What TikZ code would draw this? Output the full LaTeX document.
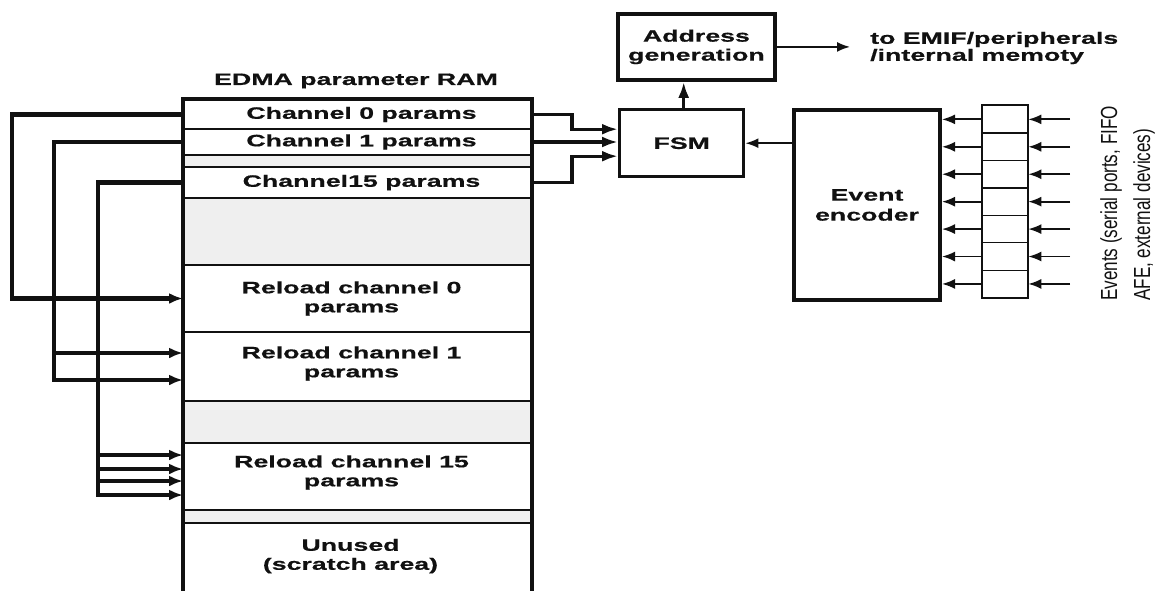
\documentclass[tikz,border=0pt]{standalone}
\usepackage{fontspec}
\usepackage{graphicx}
\setmainfont{Liberation Sans}
\newfontfamily\wfont{Liberation Sans}[FakeStretch=1.62,FakeBold=0.6]
\newfontfamily\nfont{Liberation Sans}
\usetikzlibrary{arrows.meta,calc}
\definecolor{ramgray}{HTML}{EFEFEF}
\definecolor{ink}{HTML}{111111}
\tikzset{
  row/.style={draw=ink, line width=2pt, minimum width=347pt, inner sep=0pt, anchor=north west, fill=white},
  grayrow/.style={row, fill=ramgray},
  lbl/.style={font=\wfont\bfseries\fontsize{16.5}{19}\selectfont, text=ink, align=center, inner sep=0pt},
  blk/.style={draw=ink, line width=3.8pt, inner sep=0pt, anchor=north west, fill=white},
  cell/.style={draw=ink, line width=1.3pt, minimum width=45pt, minimum height=27.43pt, inner sep=0pt, anchor=north west},
  arr/.style={draw=ink, line width=3.4pt, -{Latex[length=16pt,width=11pt]}},
  loopv/.style={draw=ink, line width=4.2pt, -{Latex[length=14pt,width=11pt]}},
  larr/.style={draw=ink, line width=3.2pt, -{Latex[length=14pt,width=11pt]}},
  sarr/.style={draw=ink, line width=1.8pt, -{Latex[length=13pt,width=10pt]}},
}
\begin{document}
\begin{tikzpicture}[x=1pt,y=-1pt]
\useasboundingbox[fill=white] (0,0) rectangle (1161,590);

% ---- EDMA parameter RAM rows
\node[row, minimum height=29pt] (ch0) at (183,99) {};
\node[row, minimum height=26pt] (ch1) at (183,128) {};
\node[grayrow, minimum height=12pt] (g1) at (183,154) {};
\node[row, minimum height=31pt] (ch15) at (183,166) {};
\node[grayrow, minimum height=67pt] (g2) at (183,197) {};
\node[row, minimum height=67pt] (rl0) at (183,264) {};
\node[row, minimum height=69pt] (rl1) at (183,331) {};
\node[grayrow, minimum height=42pt] (g3) at (183,400) {};
\node[row, minimum height=67pt] (rl15) at (183,442) {};
\node[grayrow, minimum height=13pt] (g4) at (183,509) {};
\node[row, minimum height=80pt] (un) at (183,522) {};
\draw[ink, line width=4.6pt] (un.south west) -- (ch0.north west) -- (ch0.north east) -- (un.south east);

\node[lbl] (title) at (356,81) {EDMA parameter RAM};
\node[lbl] (tch0) at ($(ch0.center)+(4,0)$) {Channel 0 params};
\node[lbl] (tch1) at ($(ch1.center)+(4,0)$) {Channel 1 params};
\node[lbl] (tch15) at ($(ch15.center)+(4,0)$) {Channel15 params};
\node[lbl] (trl0) at ($(rl0.center)+(-6,0)$) {Reload channel 0\\params};
\node[lbl] (trl1) at ($(rl1.center)+(-6,-3)$) {Reload channel 1\\params};
\node[lbl] (trl15) at ($(rl15.center)+(-6,-4)$) {Reload channel 15\\params};
\node[lbl] (tun) at ($(un.north)+(-7,34)$) {Unused\\(scratch area)};

% ---- blocks
\node[blk, minimum width=157pt, minimum height=66pt] (addr) at (616,12) {};
\node[lbl] (taddr) at (addr.center) {Address\\generation};
\node[blk, line width=3.4pt, minimum width=124pt, minimum height=67pt] (fsm) at (618,108) {};
\node[lbl] (tfsm) at (fsm.center) {FSM};
\node[blk, line width=4pt, minimum width=146pt, minimum height=190pt] (enc) at (792,108) {};
\node[lbl, font=\wfont\bfseries\fontsize{16.5}{20}\selectfont] (tenc) at (enc.center) {Event\\encoder};
\node[lbl, align=left, anchor=west, font=\wfont\bfseries\fontsize{16.5}{17}\selectfont] (emif) at (870,48) {to EMIF/peripherals\\/internal memoty};

% ---- event register
\foreach \i in {1,...,7} {
  \node[cell] (r\i) at (982,{105+27.43*(\i-1)}) {};
}
\draw[ink, line width=2.2pt] (r1.north west) rectangle (r7.south east);
\coordinate (inx) at (1070,0);
\foreach \i in {1,...,7} {
  \draw[sarr] (r\i.west) -- (r\i.west -| enc.east);
  \draw[sarr] (inx |- r\i.east) -- (r\i.east);
}
\node[rotate=90, anchor=west, inner sep=0pt, text=ink] (ev) at (1127,301)
  {\nfont\fontsize{17.1}{24.3}\selectfont\scalebox{1}[1.36]{\begin{tabular}{@{}l@{}}Events (serial ports, FIFO\\AFE, external devices)\end{tabular}}};

% ---- connections to FSM
\coordinate (bx) at (572,141);
\coordinate (fin0) at ([yshift=14pt]fsm.west);
\coordinate (fin2) at ([yshift=-13pt]fsm.west);
\draw[arr] (ch0.east) -| (fin0 -| bx) -- (fin0);
\draw[arr] (ch1.east) -- (ch1.east -| fsm.west);
\draw[arr] (ch15.east) -| (fin2 -| bx) -- (fin2);
\draw[sarr] (fsm.east -| enc.west) -- (fsm.east);
\draw[arr] ([xshift=2pt]fsm.north) -- ([xshift=2pt]fsm.north |- addr.south);
\draw[sarr] (addr.east) -- ([xshift=-20pt]addr.east -| emif.west);

% ---- reload loops
\coordinate (x0) at (12,0);
\coordinate (x1) at (54,0);
\coordinate (x2) at (98,0);
\coordinate (rl1a) at ([yshift=13.5pt]rl1.west);
\coordinate (rl1b) at ([yshift=-13.5pt]rl1.west);
\coordinate (r15a) at ([yshift=21.5pt]rl15.west);
\coordinate (r15b) at ([yshift=7.5pt]rl15.west);
\coordinate (r15c) at ([yshift=-4.5pt]rl15.west);
\coordinate (r15d) at ([yshift=-18.5pt]rl15.west);
\draw[loopv] (ch0.west) -| (x0 |- rl0.west) -- (rl0.west);
\draw[loopv] (ch1.west) -| (x1 |- rl1b) -- (rl1b);
\draw[larr] (x1 |- rl1a) -- (rl1a);
\draw[loopv] (ch15.west) -| (x2 |- r15d) -- (r15d);
\draw[larr] (x2 |- r15a) -- (r15a);
\draw[larr] (x2 |- r15b) -- (r15b);
\draw[larr] (x2 |- r15c) -- (r15c);
\end{tikzpicture}
\end{document}
